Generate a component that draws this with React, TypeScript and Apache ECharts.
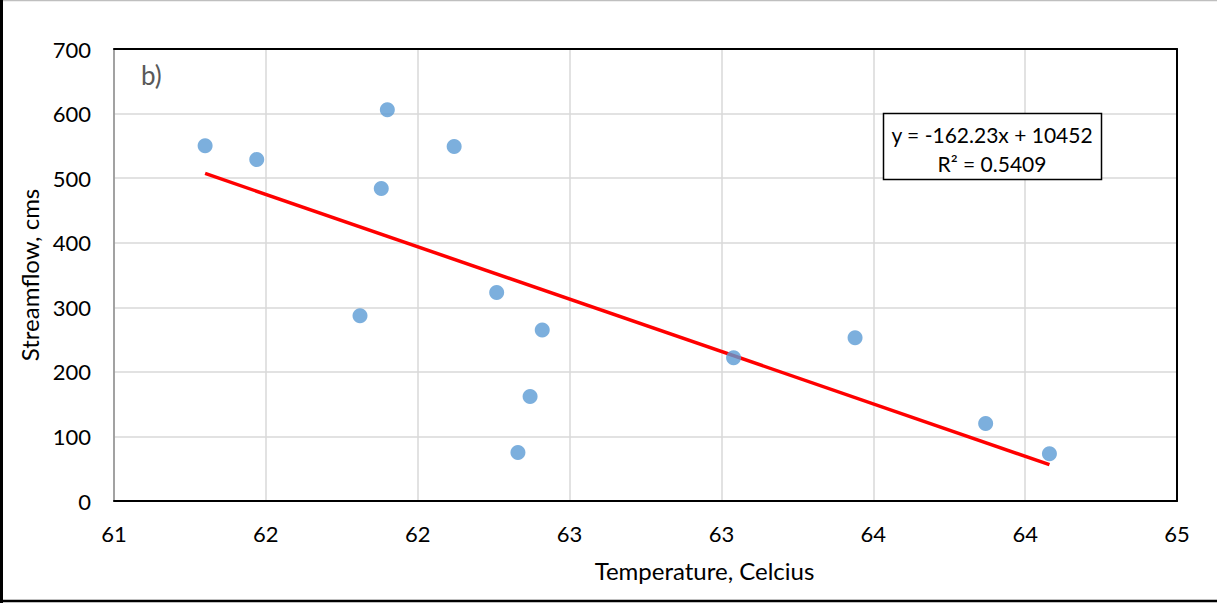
import React, { useEffect, useRef } from "react";
import * as echarts from "echarts";

const temperature: number[] = [61.30, 61.47, 61.90, 61.88, 62.12, 61.81, 62.26, 62.41, 62.37, 62.33, 63.04, 63.44, 63.87, 64.08];
const streamflow: number[] = [550, 529, 606, 484, 549, 287, 323, 265, 162, 75, 222, 253, 120, 73];
const trendSlope = -162.23;
const trendIntercept = 10452;
const rSquared = 0.5409;
const xAxisMin = 61;
const xAxisMax = 64.5;
const xAxisStep = 0.5;
const yAxisMin = 0;
const yAxisMax = 700;
const yAxisStep = 100;

const FONT = "Lato";

export default function App() {
  const ref = useRef<HTMLDivElement>(null);
  useEffect(() => {
    if (!ref.current) return;
    const chart = echarts.init(ref.current, null, { renderer: "svg" });
    const xMin = Math.min(...temperature);
    const xMax = Math.max(...temperature);
    const trend = [
      [xMin, trendSlope * xMin + trendIntercept],
      [xMax, trendSlope * xMax + trendIntercept],
    ];
    const scatterData = temperature.map((t, i) => [t, streamflow[i]]);
    const fmtX = (v: number) => String(Math.round(v));
    chart.setOption({
      animation: false,
      backgroundColor: "#ffffff",
      textStyle: { fontFamily: FONT },
      grid: { left: 114, top: 49, right: 40, bottom: 102, containLabel: false },
      xAxis: [
        {
          type: "value",
          min: xAxisMin,
          max: xAxisMax,
          interval: xAxisStep,
          name: "Temperature, Celcius",
          nameLocation: "middle",
          nameGap: 57,
          nameTextStyle: { fontFamily: FONT, fontSize: 24, color: "#000", padding: [0, 0, 0, 118] },
          axisLine: { show: true, onZero: false, lineStyle: { color: "#000", width: 2 } },
          axisTick: { show: false },
          axisLabel: { formatter: fmtX, fontFamily: FONT, fontSize: 22, color: "#000", margin: 21 },
          splitLine: { show: true, lineStyle: { color: "#d9d9d9", width: 1.5 } },
        },
        {
          type: "value",
          position: "top",
          min: xAxisMin,
          max: xAxisMax,
          interval: xAxisStep,
          axisLine: { show: true, onZero: false, lineStyle: { color: "#000", width: 2 } },
          axisTick: { show: false },
          axisLabel: { show: false },
          splitLine: { show: false },
        },
      ],
      yAxis: [
        {
          type: "value",
          min: yAxisMin,
          max: yAxisMax,
          interval: yAxisStep,
          name: "Streamflow, cms",
          nameLocation: "middle",
          nameGap: 70,
          nameTextStyle: { fontFamily: FONT, fontSize: 24, color: "#000" },
          axisLine: { show: true, onZero: false, lineStyle: { color: "#8c8c8c", width: 1.5 } },
          axisTick: { show: false },
          axisLabel: { fontFamily: FONT, fontSize: 22, color: "#000", margin: 23 },
          splitLine: { show: true, lineStyle: { color: "#d9d9d9", width: 1.5 } },
        },
        {
          type: "value",
          position: "right",
          min: yAxisMin,
          max: yAxisMax,
          interval: yAxisStep,
          axisLine: { show: true, onZero: false, lineStyle: { color: "#000", width: 2 } },
          axisTick: { show: false },
          axisLabel: { show: false },
          splitLine: { show: false },
        },
      ],
      series: [
        {
          type: "line",
          data: trend,
          xAxisIndex: 0,
          yAxisIndex: 0,
          showSymbol: false,
          symbol: "none",
          lineStyle: { color: "#ff0000", width: 3.5 },
          z: 2,
        },
        {
          type: "scatter",
          data: scatterData,
          xAxisIndex: 0,
          yAxisIndex: 0,
          symbol: "circle",
          symbolSize: 15,
          itemStyle: { color: "#5b9bd5" },
          z: 3,
        },
      ],
      graphic: [
        { type: "line", shape: { x1: 0, y1: 0.5, x2: 1217, y2: 0.5 }, style: { stroke: "#bfbfbf", lineWidth: 1.5 } },
        { type: "line", shape: { x1: 1.5, y1: 0, x2: 1.5, y2: 603 }, style: { stroke: "#000", lineWidth: 3 } },
        { type: "line", shape: { x1: 0, y1: 601, x2: 1217, y2: 601 }, style: { stroke: "#000", lineWidth: 2.5 } },
        {
          type: "text",
          left: 141,
          top: 62,
          style: { text: "b)", fontFamily: FONT, fontSize: 26, fill: "#595959" },
        },
        {
          type: "rect",
          shape: { x: 883.5, y: 113.5, width: 218, height: 66 },
          style: { fill: "#fff", stroke: "#000", lineWidth: 1.5 },
          z: 10,
        },
        {
          type: "text",
          x: 992,
          y: 134,
          style: {
            text: "y = " + trendSlope.toFixed(2) + "x + " + trendIntercept,
            fontFamily: FONT,
            fontSize: 21,
            fill: "#000",
            align: "center",
            verticalAlign: "middle",
          },
          z: 11,
        },
        {
          type: "text",
          x: 992,
          y: 163,
          style: {
            text: "R² = " + rSquared.toFixed(4),
            fontFamily: FONT,
            fontSize: 21,
            fill: "#000",
            align: "center",
            verticalAlign: "middle",
          },
          z: 11,
        },
      ],
    });
    return () => chart.dispose();
  }, []);
  return (
    <div
      ref={ref}
      style={{ position: "fixed", left: 0, top: 0, width: 1217, height: 603, background: "#fff" }}
    />
  );
}
